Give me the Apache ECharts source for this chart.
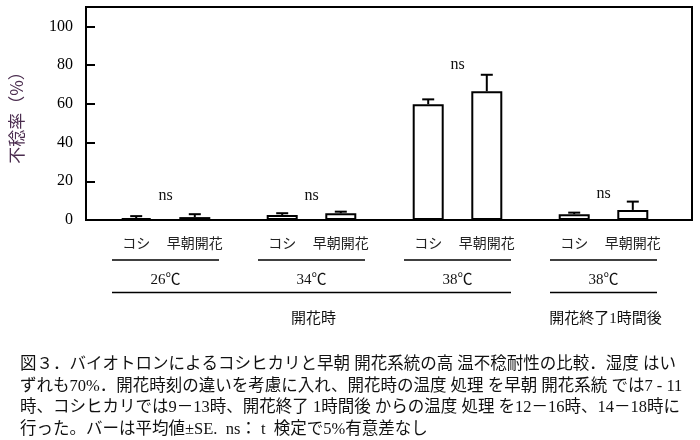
<!DOCTYPE html>
<html><head><meta charset="utf-8">
<script src="https://cdn.jsdelivr.net/npm/echarts@6/dist/echarts.min.js"></script>
<style>html,body{margin:0;padding:0;background:#fff}#c{width:700px;height:440px}</style>
</head><body><div id="c"></div>
<script>
// ---- data ----
const groups = ['26℃', '34℃', '38℃', '38℃'];
const cultivars = ['コシ', '早朝開花'];
const koshi = [1.0, 2.6, 59.8, 3.0];
const koshiSE = [1.0, 0.9, 2.5, 0.8];
const soucho = [1.5, 3.5, 66.5, 5.2];
const souchoSE = [1.5, 0.8, 8.5, 4.3];
const sigLabels = ['ns', 'ns', 'ns', 'ns'];
const sigLevel = [12.3, 12.3, 80, 13.6];
const periods = ['開花時', '開花終了1時間後'];
const periodFirst = [0, 3];
const periodLast = [2, 3];
const yMin = 0, yMax = 110, yStep = 20;
const yName = '不稔率（%）';
const caption = [
  '図３．バイオトロンによるコシヒカリと早朝 開花系統の高 温不稔耐性の比較．湿度 はい',
  'ずれも70%．開花時刻の違いを考慮に入れ、開花時の温度 処理 を早朝 開花系統 では7 - 11',
  '時、コシヒカリでは9－13時、開花終了 1時間後 からの温度 処理 を12－16時、14－18時に',
  '行った。バーは平均値±SE.  ns： t  検定で5%有意差なし'
];

// ---- style ----
const SERIF = '"Liberation Serif", "Noto Sans CJK JP", serif';
const JP = '"Noto Sans CJK JP", sans-serif';
const BAR_W = 31, BAR_GAP = 0.89;
const OFF = BAR_W * (1 + BAR_GAP) / 2;

const errData = [];
koshi.forEach((v, i) => errData.push([i, v, koshiSE[i], 0]));
soucho.forEach((v, i) => errData.push([i, v, souchoSE[i], 1]));

const chart = echarts.init(document.getElementById('c'), null, {renderer: 'canvas'});
chart.setOption({
  animation: false,
  backgroundColor: '#fff',
  title: {
    text: caption.join('\n'), left: 20, top: 354, padding: 0,
    textStyle: {fontSize: 16.5, lineHeight: 21.5, fontWeight: 'normal', color: '#111', fontFamily: SERIF}
  },
  grid: [
    {left: 78, right: 8, top: 7, bottom: 220, show: true, borderColor: '#000', borderWidth: 2, containLabel: false},
    {left: 92.5, right: 23.5, top: 7, bottom: 220, containLabel: false}
  ],
  xAxis: [
    {gridIndex: 0, type: 'value', min: 0, max: 1, show: false},
    {gridIndex: 1, type: 'category', data: groups, show: false}
  ],
  yAxis: [
    {
      gridIndex: 0, type: 'value', min: yMin, max: yMax, interval: yStep,
      axisLine: {show: true, lineStyle: {color: '#000', width: 2}},
      axisTick: {show: true, inside: true, length: 9, lineStyle: {color: '#000', width: 2}},
      axisLabel: {color: '#000', fontSize: 16, fontFamily: SERIF, margin: 13, showMaxLabel: false},
      splitLine: {show: false},
      name: yName, nameLocation: 'middle', nameRotate: 90, nameGap: 61,
      nameTextStyle: {color: '#4b2d4f', fontSize: 17, fontFamily: JP}
    },
    {gridIndex: 1, type: 'value', min: yMin, max: yMax, show: false}
  ],
  series: [
    {
      name: cultivars[0], type: 'bar', xAxisIndex: 1, yAxisIndex: 1, data: koshi,
      barWidth: BAR_W, barGap: (BAR_GAP * 100) + '%',
      itemStyle: {color: '#fff', borderColor: '#000', borderWidth: 2}
    },
    {
      name: cultivars[1], type: 'bar', xAxisIndex: 1, yAxisIndex: 1, data: soucho,
      barWidth: BAR_W, barGap: (BAR_GAP * 100) + '%',
      itemStyle: {color: '#fff', borderColor: '#000', borderWidth: 2}
    },
    {
      type: 'custom', xAxisIndex: 1, yAxisIndex: 1, data: errData, z: 5, silent: true,
      renderItem(params, api) {
        const i = api.value(0), m = api.value(1), se = api.value(2), s = api.value(3);
        const b = api.coord([i, m]), t = api.coord([i, m + se]);
        const x = b[0] + (s === 0 ? -OFF : OFF);
        return {type: 'group', children: [
          {type: 'line', shape: {x1: x, y1: b[1], x2: x, y2: t[1]}, style: {stroke: '#000', lineWidth: 2}},
          {type: 'line', shape: {x1: x - 6, y1: t[1], x2: x + 6, y2: t[1]}, style: {stroke: '#000', lineWidth: 2}}
        ]};
      }
    },
    {
      type: 'custom', xAxisIndex: 1, yAxisIndex: 1, silent: true,
      data: sigLevel.map((v, i) => [i, v]),
      renderItem(params, api) {
        const p = api.coord([api.value(0), api.value(1)]);
        return {type: 'text', style: {text: sigLabels[params.dataIndex], x: p[0], y: p[1], align: 'center', verticalAlign: 'middle', font: '16px ' + SERIF, fill: '#111'}};
      }
    },
    {
      type: 'custom', xAxisIndex: 1, yAxisIndex: 1, silent: true, clip: false,
      data: groups.map((g, i) => [i, 0]),
      renderItem(params, api) {
        const p = api.coord([api.value(0), 0]);
        const cx = p[0], y0 = p[1];
        return {type: 'group', children: [
          {type: 'text', style: {text: cultivars[0], x: cx - OFF, y: y0 + 23, align: 'center', verticalAlign: 'middle', font: '14px ' + JP, fill: '#222'}},
          {type: 'text', style: {text: cultivars[1], x: cx + OFF, y: y0 + 23, align: 'center', verticalAlign: 'middle', font: '14px ' + JP, fill: '#222'}},
          {type: 'line', shape: {x1: cx - 53.5, y1: y0 + 40, x2: cx + 53.5, y2: y0 + 40}, style: {stroke: '#000', lineWidth: 1.7}},
          {type: 'text', style: {text: groups[params.dataIndex], x: cx, y: y0 + 60, align: 'center', verticalAlign: 'middle', font: '15px ' + SERIF, fill: '#111'}}
        ]};
      }
    },
    {
      type: 'custom', xAxisIndex: 1, yAxisIndex: 1, silent: true, clip: false,
      data: periods.map((p, k) => [periodFirst[k], 0, periodLast[k]]),
      renderItem(params, api) {
        const a = api.coord([api.value(0), 0]), b = api.coord([api.value(2), 0]);
        const y0 = a[1];
        const x1 = a[0] - 53.5, x2 = b[0] + 53.5;
        return {type: 'group', children: [
          {type: 'line', shape: {x1: x1, y1: y0 + 72.5, x2: x2, y2: y0 + 72.5}, style: {stroke: '#000', lineWidth: 1.7}},
          {type: 'text', style: {text: periods[params.dataIndex], x: (x1 + x2) / 2 + 2, y: y0 + 99, align: 'center', verticalAlign: 'middle', font: '15px ' + SERIF, fill: '#111'}}
        ]};
      }
    }
  ]
});
</script>
</body></html>
